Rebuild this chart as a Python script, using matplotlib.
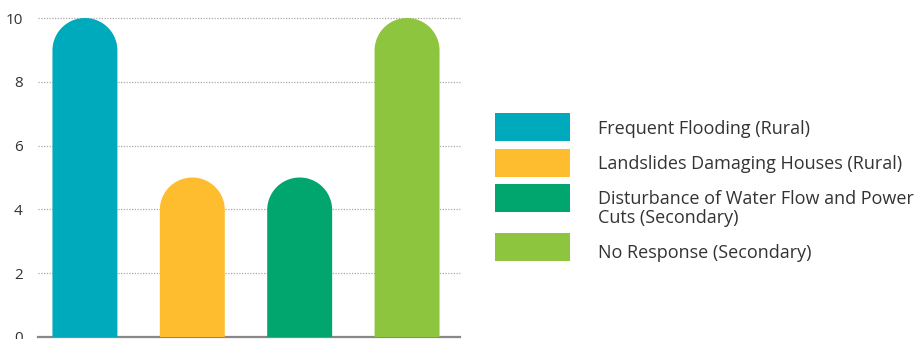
import numpy as np
import matplotlib
matplotlib.use("Agg")
import matplotlib.pyplot as plt
from matplotlib.path import Path
from matplotlib.patches import PathPatch, Rectangle

plt.rcParams['font.family'] = ['Open Sans', 'DejaVu Sans']

categories = [
    "Frequent Flooding (Rural)",
    "Landslides Damaging Houses (Rural)",
    "Disturbance of Water Flow and Power\nCuts (Secondary)",
    "No Response (Secondary)",
]
values = [10, 5, 5, 10]
colors = ["#00AABD", "#FEBD2E", "#00A66D", "#8DC53F"]
yticks = [0, 2, 4, 6, 8, 10]

W, H = 923, 339
fig = plt.figure(figsize=(W / 100, H / 100), dpi=100)
ax = fig.add_axes([38 / W, 2 / H, 422 / W, 319 / H])

x = np.arange(len(values))
bar_w = 0.605
ax.set_xlim(-0.437, 3.493)
ax.set_ylim(0, 10)

# pixel scale of each data axis, so that the rounded tops stay circular
px_per_x = ax.get_position().width * W / (3.493 + 0.437)
px_per_y = ax.get_position().height * H / 10.0
rx = bar_w / 2
ry = rx * px_per_x / px_per_y

for xi, v, c in zip(x, values, colors):
    left, right = xi - rx, xi + rx
    theta = np.linspace(0, np.pi, 60)
    arc_x = xi + rx * np.cos(theta)
    arc_y = (v - ry) + ry * np.sin(theta)
    verts = [(right, 0)] + list(zip(arc_x, arc_y)) + [(left, 0), (right, 0)]
    codes = [Path.MOVETO] + [Path.LINETO] * (len(verts) - 2) + [Path.CLOSEPOLY]
    ax.add_patch(PathPatch(Path(verts, codes), facecolor=c, edgecolor="none",
                           zorder=3, clip_on=False))

ax.set_yticks(yticks)
ax.set_yticklabels([str(t) for t in yticks], fontsize=11, color="#333333")
ax.set_xticks([])
ax.tick_params(axis="y", length=0, pad=11)
for t in yticks[1:]:
    ax.axhline(t, color="#aaaaaa", lw=0.9, ls=(0, (1, 1.2)), zorder=1, clip_on=False)
for s in ["top", "right", "left"]:
    ax.spines[s].set_visible(False)
ax.spines["bottom"].set_color("#888888")
ax.spines["bottom"].set_linewidth(1.6)

# legend swatches and labels, placed in pixel units of the figure
swatch_tops = [113, 149, 184, 233]
first_baselines = [134, 169, 204, 258]
line_step = 19
for top, base, lab, c in zip(swatch_tops, first_baselines, categories, colors):
    fig.add_artist(Rectangle((495 / W, 1 - (top + 28) / H), 75 / W, 28 / H,
                             transform=fig.transFigure, facecolor=c,
                             edgecolor="none"))
    for i, line in enumerate(lab.split("\n")):
        fig.text(598 / W, 1 - (base + i * line_step) / H, line, fontsize=13,
                 color="#333333", va="baseline", ha="left")

fig.savefig("out.png", dpi=100)
